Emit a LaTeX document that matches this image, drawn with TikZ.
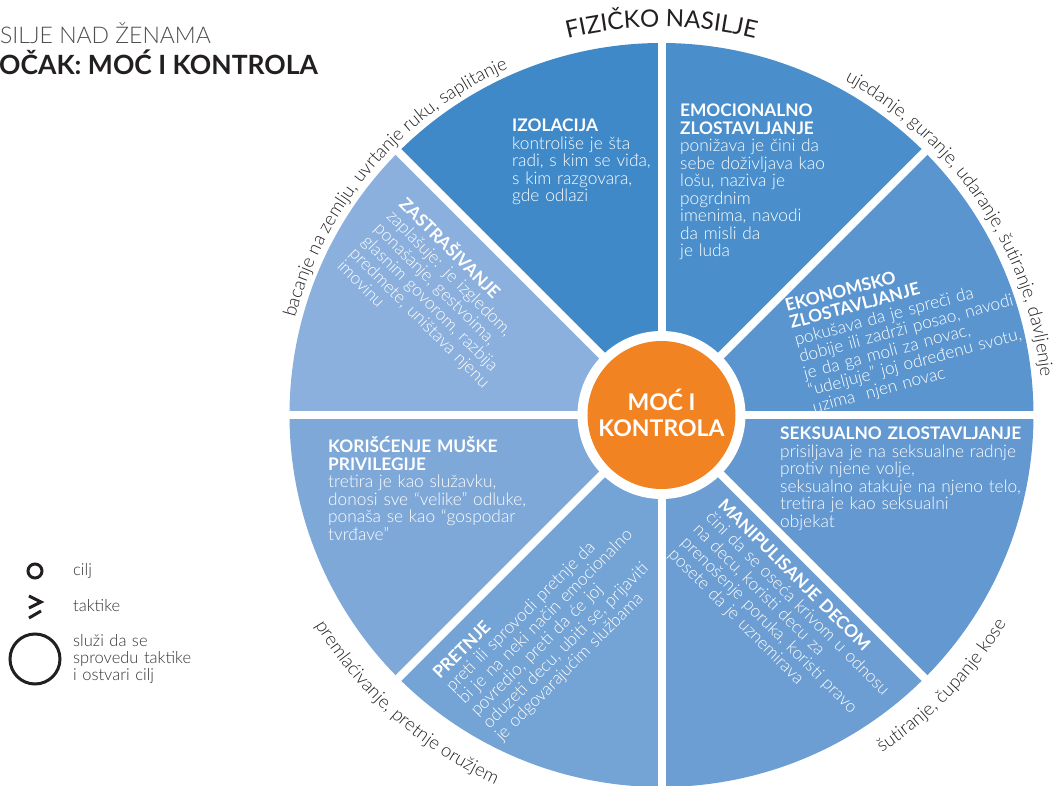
\documentclass[tikz,border=0pt]{standalone}
\usepackage{fontspec}
\setmainfont{Lato}[UprightFont=* Light, BoldFont=* Bold]
\newfontfamily\regularfont{Lato}
\usetikzlibrary{decorations.text}

%wheel colours
\definecolor{izolacija}{HTML}{4089C8}
\definecolor{emocionalno}{HTML}{4A8FCC}
\definecolor{ekonomsko}{HTML}{5A95CF}
\definecolor{seksualno}{HTML}{6398D0}
\definecolor{manipulisanje}{HTML}{6C9ED3}
\definecolor{pretnje}{HTML}{74A3D6}
\definecolor{privilegije}{HTML}{7EA8D8}
\definecolor{zastrasivanje}{HTML}{8BB0DD}
\definecolor{hubfill}{HTML}{F28322}
\definecolor{rimgray}{HTML}{231F20}
\definecolor{titlegray}{HTML}{4D4D4D}
\definecolor{legendgray}{HTML}{333333}

\tikzset{
	wedge text/.style={text=white, font=\fontsize{17.3}{17.5}\selectfont, text width=320pt, align=left, inner sep=0pt, anchor=base west},
	legend text/.style={text=legendgray, font=\fontsize{16.5}{17}\selectfont, text width=200pt, align=left, inner sep=0pt, anchor=base west},
	rim text/.style={decorate, decoration={text along path, text align=center, text color=rimgray}},
}

\begin{document}
\begin{tikzpicture}[x=1pt, y=1pt]

	\useasboundingbox (-661.5,-371) rectangle (398.5,415);

	%title
	\node[anchor=base west, inner sep=0pt, text=titlegray, font=\fontsize{23}{23}\selectfont] (naslov) at (-661.5,371) {SILJE NAD ŽENAMA};
	\node[anchor=base west, inner sep=0pt, text=rimgray, font=\bfseries\fontsize{26.5}{26.5}\selectfont] (tocak) at (-662.5,340) {OČAK: MOĆ I KONTROLA};

	%the eight wedges
	\fill[emocionalno] (0,0) -- (45:372) arc[start angle=45, end angle=90, radius=372] -- cycle;
	\fill[izolacija] (0,0) -- (90:372) arc[start angle=90, end angle=135, radius=372] -- cycle;
	\fill[zastrasivanje] (0,0) -- (135:372) arc[start angle=135, end angle=180, radius=372] -- cycle;
	\fill[privilegije] (0,0) -- (180:372) arc[start angle=180, end angle=225, radius=372] -- cycle;
	\fill[pretnje] (0,0) -- (225:372) arc[start angle=225, end angle=270, radius=372] -- cycle;
	\fill[manipulisanje] (0,0) -- (270:372) arc[start angle=270, end angle=315, radius=372] -- cycle;
	\fill[seksualno] (0,0) -- (315:372) arc[start angle=315, end angle=360, radius=372] -- cycle;
	\fill[ekonomsko] (0,0) -- (0:372) arc[start angle=0, end angle=45, radius=372] -- cycle;

	%wedge texts
	\node[wedge text] (izolacijaTxt) at (-149.5,283) {\textbf{IZOLACIJA}\\kontroliše je šta\\radi, s kim se viđa,\\s kim razgovara,\\gde odlazi};
	\node[wedge text] (emocionalnoTxt) at (18.5,298) {\textbf{EMOCIONALNO}\\\textbf{ZLOSTAVLJANJE}\\ponižava je čini da\\sebe doživljava kao\\lošu, naziva je\\pogrdnim\\imenima, navodi\\da misli da\\je luda};
	\node[wedge text, rotate=15] (ekonomskoTxt) at (125.5,103) {\textbf{EKONOMSKO}\\\textbf{ZLOSTAVLJANJE}\\pokušava da je spreči da\\dobije ili zadrži posao, navodi\\je da ga moli za novac,\\“udeljuje” joj određenu svotu,\\uzima\ \ njen novac};
	\node[wedge text] (seksualnoTxt) at (118.5,-25) {\textbf{SEKSUALNO ZLOSTAVLJANJE}\\prisiljava je na seksualne radnje\\protiv njene volje,\\seksualno atakuje na njeno telo,\\tretira je kao seksualni\\objekat};
	\node[wedge text, rotate=-45] (manipulisanjeTxt) at (55.5,-91) {\textbf{MANIPULISANJE DECOM}\\čini da se oseća krivom u odnosu\\na decu, koristi decu za\\prenošenje poruka, koristi pravo\\posete da je uznemirava};
	\node[wedge text, rotate=45] (pretnjeTxt) at (-221.5,-265) {\textbf{PRETNJE}\\preti ili sprovodi pretnje da\\bi je na neki način emocionalno\\povredio, preti da će joj\\oduzeti decu, ubiti se, prijaviti\\je odgovarajućim službama};
	\node[wedge text] (privilegijeTxt) at (-333.5,-38) {\textbf{KORIŠĆENJE MUŠKE}\\\textbf{PRIVILEGIJE}\\tretira je kao služavku,\\donosi sve “velike” odluke,\\ponaša se kao “gospodar\\tvrđave”};
	\node[wedge text, rotate=-45] (zastrasivanjeTxt) at (-263.5,210) {\textbf{ZASTRAŠIVANJE}\\zaplašuje: je izgledom,\\ponašanje, gestvoima,\\glasnim govorom, razbija\\predmete, uništava njenu\\imovinu};

	%white spokes between wedges
	\draw[white, line width=8pt] (0,0) -- (0:380);
	\draw[white, line width=8pt] (0,0) -- (45:380);
	\draw[white, line width=8pt] (0,0) -- (90:380);
	\draw[white, line width=8pt] (0,0) -- (135:380);
	\draw[white, line width=8pt] (0,0) -- (180:380);
	\draw[white, line width=8pt] (0,0) -- (225:380);
	\draw[white, line width=8pt] (0,0) -- (270:380);
	\draw[white, line width=8pt] (0,0) -- (315:380);

	%hub
	\fill[white] (0,0) circle[radius=84];
	\fill[hubfill] (0,0) circle[radius=74];
	\node[align=center, text=white, font=\bfseries\fontsize{23}{26}\selectfont] (hub) at (0,2) {MOĆ I\\KONTROLA};

	%physical violence written round the rim
	\path[rim text, decoration={text={|\regularfont\fontsize{24}{24}\selectfont|FIZIČKO NASILJE}}] (130:388) arc[start angle=130, end angle=50, radius=388];
	\path[rim text, decoration={text={|\fontsize{18.5}{18.5}\selectfont|bacanje na zemlju, uvrtanje ruku, saplitanje}}] (185:379) arc[start angle=185, end angle=94, radius=379];
	\path[rim text, decoration={text={|\fontsize{18.5}{18.5}\selectfont|ujedanje, guranje, udaranje, šutiranje, davljenje}}] (78:381) arc[start angle=78, end angle=-11, radius=381];
	\path[rim text, decoration={text={|\fontsize{18.5}{18.5}\selectfont|šutiranje, čupanje kose}}] (-76:403) arc[start angle=-76, end angle=-12, radius=403];
	\path[rim text, decoration={text={|\fontsize{18.5}{18.5}\selectfont|premlaćivanje, pretnje oružjem}}] (196:405) arc[start angle=196, end angle=261, radius=405];

	%legend
	\draw[rimgray, line width=3pt] (-626.5,-156) circle[radius=7];
	\node[legend text] (cilj) at (-588.5,-161) {cilj};
	\draw[rimgray, line width=3pt] (-632.5,-181) -- (-620.5,-187) -- (-632.5,-193);
	\draw[rimgray, line width=3pt] (-632.5,-203) -- (-620.5,-196);
	\node[legend text] (taktike) at (-588.5,-197) {taktike};
	\draw[rimgray, line width=3pt] (-626.5,-244) circle[radius=25];
	\node[legend text] (sluzi) at (-588.5,-232) {služi da se\\sprovedu taktike\\i ostvari cilj};

\end{tikzpicture}
\end{document}
